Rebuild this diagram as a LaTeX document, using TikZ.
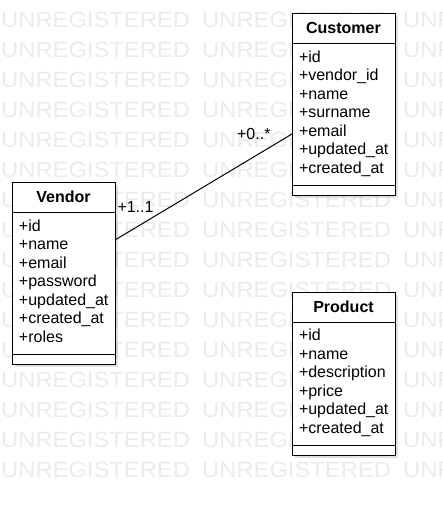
\documentclass[tikz,border=0pt]{standalone}
\usepackage{fontspec}
\setmainfont{Liberation Sans}
\usetikzlibrary{positioning,shadows}

\tikzset{
	watermark/.style={anchor=west, inner sep=0pt, text=black!8, font=\fontsize{22}{22}\selectfont},
	classbox/.style={draw, fill=white, line width=1pt, outer sep=0pt, minimum width=103pt,
		general shadow={fill=black, opacity=0.12, shadow xshift=3pt, shadow yshift=-3pt}},
	classhead/.style={classbox, minimum height=30pt, inner sep=0pt, font=\fontsize{16}{18.5}\selectfont\bfseries},
	classattr/.style={classbox, text width=89pt, inner xsep=7pt, inner ysep=0pt, align=left,
		font=\fontsize{16}{18.5}\selectfont, execute at begin node=\strut, execute at end node=\strut},
	classfoot/.style={classbox, minimum height=10pt, inner sep=0pt},
	multlabel/.style={inner sep=0pt, font=\fontsize{16}{18.5}\selectfont}
}

\begin{document}
\begin{tikzpicture}[x=1pt,y=-1pt]
	\useasboundingbox (0,0) rectangle (443,507);
	\clip (0,0) rectangle (443,507);
	% watermark
	\foreach \r in {0,...,15}
		\foreach \c in {0,1,2}
			\node[watermark] (wm-\r-\c) at (1+201*\c,20+30*\r) {\scalebox{1.08}[1]{UNREGISTERED}};

	\node[classhead] (customer) at (343.5,28) {Customer};
	\node[classattr, minimum height=142pt, below=0pt of customer] (customerattr)
		{+id\\+vendor\_id\\+name\\+surname\\+email\\+updated\_at\\+created\_at};
	\node[classfoot, below=0pt of customerattr] (customerfoot) {};

	\node[classhead] (vendor) at (63.5,197) {Vendor};
	\node[classattr, minimum height=142pt, below=0pt of vendor] (vendorattr)
		{+id\\+name\\+email\\+password\\+updated\_at\\+created\_at\\+roles};
	\node[classfoot, below=0pt of vendorattr] (vendorfoot) {};

	\node[classhead] (product) at (343.5,307) {Product};
	\node[classattr, minimum height=123pt, below=0pt of product] (productattr)
		{+id\\+name\\+description\\+price\\+updated\_at\\+created\_at};
	\node[classfoot, below=0pt of productattr] (productfoot) {};

	\draw[line width=1pt] ([yshift=43pt]vendorattr.east) -- ([yshift=-20pt]customerattr.west)
		node[multlabel, at start, anchor=base west, xshift=2pt, yshift=28pt] (vendormult) {+1..1}
		node[multlabel, at end, anchor=base east, xshift=-21pt, yshift=-5pt] (customermult) {+0..*};
\end{tikzpicture}
\end{document}
